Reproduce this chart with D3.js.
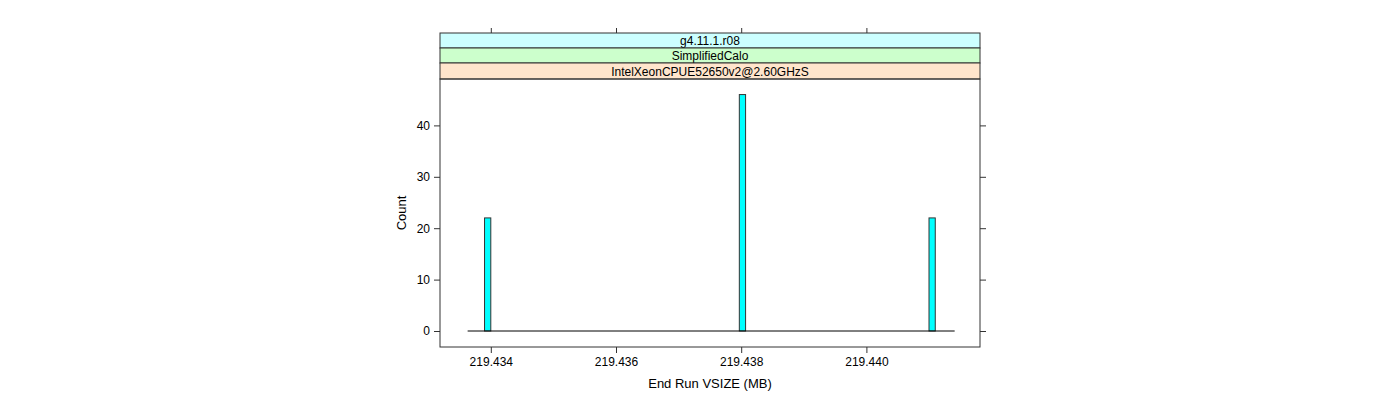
<!DOCTYPE html>
<html><head><meta charset="utf-8">
<script src="https://cdn.jsdelivr.net/npm/d3@7"></script>
<style>body{margin:0;background:#fff}svg{display:block}text{font-family:"Liberation Sans",Arial,sans-serif;}</style>
</head><body><svg id="c" width="1400" height="400"></svg>
<script>
const stripLabels = ["g4.11.1.r08", "SimplifiedCalo", "IntelXeonCPUE52650v2@2.60GHzS"];
const stripColors = ["#CCFFFF", "#CCFFCC", "#FFE5CC"];
const binStarts = [219.43390, 219.43797, 219.44100];
const binWidth = 0.0001;
const counts = [22, 46, 22];
const histRange = [219.43363, 219.44141];
const xTicks = [219.434, 219.436, 219.438, 219.440];
const yTicks = [0, 10, 20, 30, 40];

const svg = d3.select("#c");
const L = 440, R = 980, T = 79, B = 347;
const x = d3.scaleLinear().domain([219.434, 219.440]).range([490.8, 866.4]);
const y = d3.scaleLinear().domain([0, 40]).range([331, 125.4]);
const ink = "#333";

// strips
const sh = [33, 48, 63, 79];
stripLabels.forEach((s, i) => {
  svg.append("rect").attr("x", L).attr("y", sh[i]).attr("width", R - L).attr("height", sh[i+1] - sh[i])
    .attr("fill", stripColors[i]).attr("stroke", ink).attr("stroke-width", 1);
  svg.append("text").attr("x", (L + R) / 2).attr("y", (sh[i] + sh[i+1]) / 2 + 4.5)
    .attr("text-anchor", "middle").attr("font-size", 12).attr("fill", "#000").text(s);
});

// panel
svg.append("rect").attr("x", L).attr("y", T).attr("width", R - L).attr("height", B - T)
  .attr("fill", "none").attr("stroke", ink).attr("stroke-width", 1);

// bottom axis
const xb = svg.append("g").attr("transform", `translate(0,${B})`)
  .call(d3.axisBottom(x).tickValues(xTicks).tickFormat(d3.format(".3f")).tickSizeOuter(0).tickSize(6).tickPadding(4));
// top axis (ticks only)
const xt = svg.append("g").attr("transform", `translate(0,${sh[0]})`)
  .call(d3.axisTop(x).tickValues(xTicks).tickFormat("").tickSizeOuter(0).tickSize(5));
// left axis
const yl = svg.append("g").attr("transform", `translate(${L},0)`)
  .call(d3.axisLeft(y).tickValues(yTicks).tickSizeOuter(0).tickSize(6).tickPadding(4));
// right axis
const yr = svg.append("g").attr("transform", `translate(${R},0)`)
  .call(d3.axisRight(y).tickValues(yTicks).tickFormat("").tickSizeOuter(0).tickSize(6));
[xb, xt, yl, yr].forEach(g => {
  g.select(".domain").remove();
  g.selectAll("line").attr("stroke", ink);
  g.selectAll("text").attr("font-size", 12).attr("fill", "#000").attr("font-family", '"Liberation Sans",Arial,sans-serif');
});

// bars
svg.append("g").selectAll("rect").data(binStarts).join("rect")
  .attr("x", d => x(d)).attr("width", d => x(d + binWidth) - x(d))
  .attr("y", (d, i) => y(counts[i])).attr("height", (d, i) => y(0) - y(counts[i]))
  .attr("fill", "#00FFFF").attr("stroke", ink).attr("stroke-width", 1);

// baseline
svg.append("line").attr("x1", x(histRange[0])).attr("x2", x(histRange[1]))
  .attr("y1", y(0)).attr("y2", y(0)).attr("stroke", "#000").attr("stroke-width", 1);

// axis labels
svg.append("text").attr("x", (L + R) / 2).attr("y", 388).attr("text-anchor", "middle")
  .attr("font-size", 13).text("End Run VSIZE (MB)");
svg.append("text").attr("transform", `translate(406,${(T + B) / 2}) rotate(-90)`)
  .attr("text-anchor", "middle").attr("font-size", 13).text("Count");
</script></body></html>
